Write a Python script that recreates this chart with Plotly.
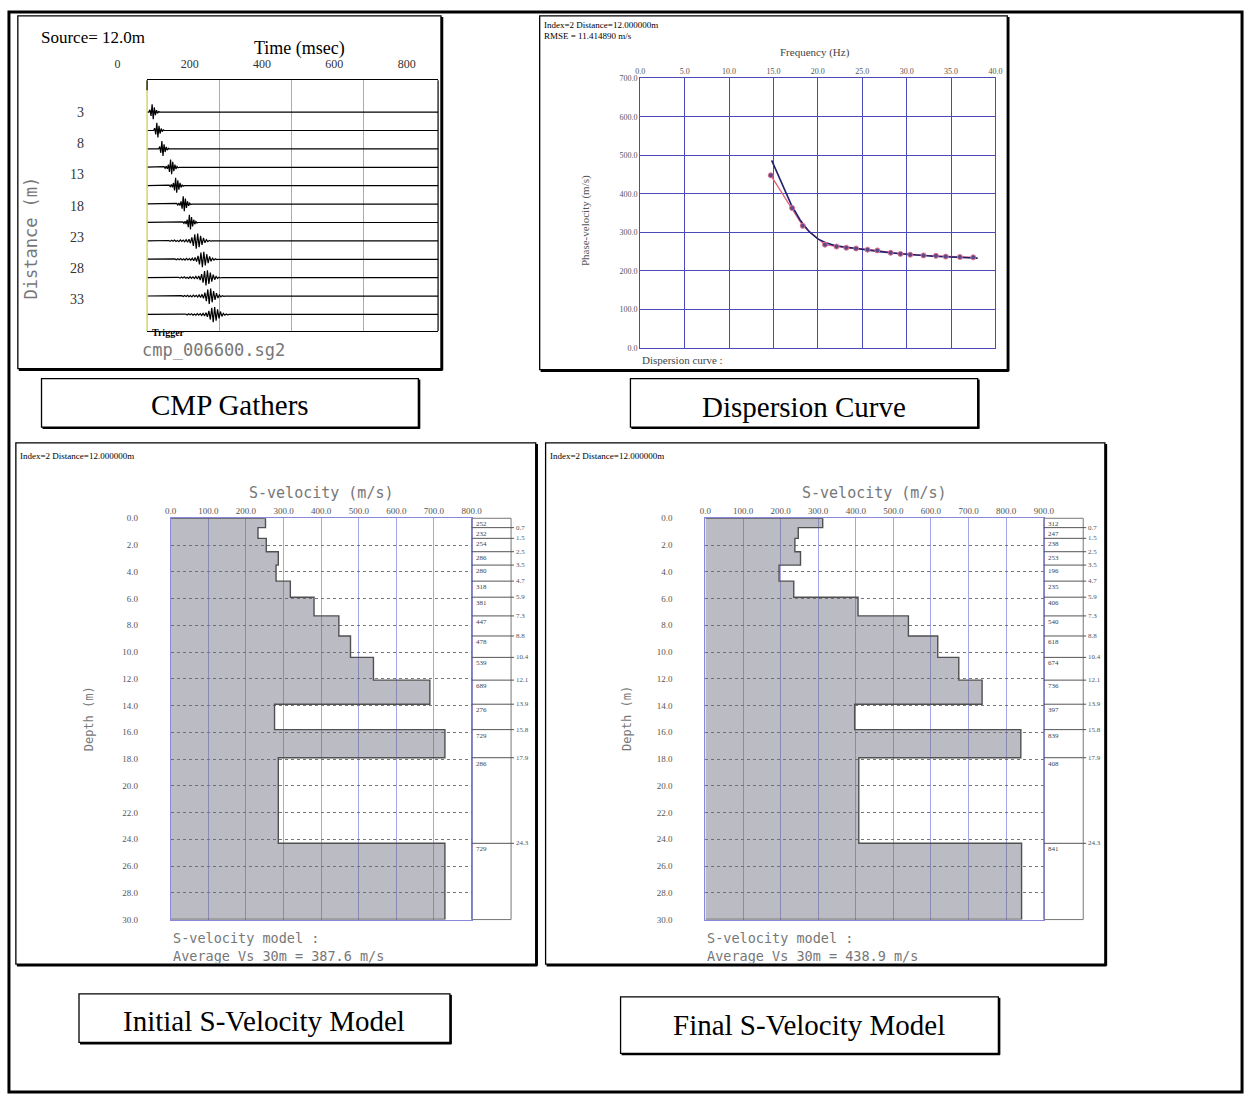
import plotly.graph_objects as go

W, H = 1256, 1095


def X(p):
    return p / W


def Y(p):
    return 1 - p / H


# ---------------- data ----------------
# CMP gather
cmp_offsets_m = [3.0, 5.95, 8.9, 11.85, 14.8, 17.75, 20.7, 23.65, 26.6, 29.55, 32.5, 35.45]
cmp_peak_ms = [14, 27, 41, 65, 79, 100, 117, 136, 153, 163, 172, 183]
cmp_wavelet_kind = [0, 0, 0, 1, 1, 1, 1, 2, 2, 2, 2, 2]
wavelet_near = [0, 0.3, -0.5, 1.0, -0.9, 0.6, -0.4, 0.25, -0.15, 0.08, 0]
wavelet_mid = [0, 0.08, -0.12, 0.15, -0.2, 0.35, -0.6, 1.0, -0.9, 0.7, -0.5, 0.35, -0.22, 0.12, -0.06, 0]
wavelet_far = [0, 0.05, -0.06, 0.08, -0.05, 0.1, -0.08, 0.06, -0.1, 0.12, -0.08, 0.1, -0.12, 0.15,
               -0.18, 0.22, -0.3, 0.45, -0.65, 0.85, -1.0, 0.95, -0.8, 0.65, -0.5, 0.38, -0.25, 0.15,
               -0.1, 0.06, -0.04, 0]
wavelet_dt_ms = [3, 3, 4]
wavelet_peak_idx = [3, 7, 20]
cmp_time_ticks = [0, 200, 400, 600, 800]
cmp_dist_ticks = [3, 8, 13, 18, 23, 28, 33]

# Dispersion curve
disp_freq_obs = [14.7, 17.1, 18.3, 20.8, 22.1, 23.2, 24.3, 25.6, 26.7, 28.2, 29.3, 30.4, 31.9, 33.3, 34.4, 36.0, 37.5]
disp_vel_obs = [448, 363, 317, 268, 263, 260, 258, 255, 253, 247, 244, 242, 240, 239, 237, 236, 235]
disp_freq_theory = [14.8, 15.5, 16.2, 17.0, 18.0, 19.0, 20.0, 21.0, 22.0, 23.5, 25.0, 27.0, 29.0, 31.0, 33.0, 35.0, 38.0]
disp_vel_theory = [487, 450, 412, 372, 332, 302, 283, 272, 265, 260, 256, 250, 245, 241, 238, 236, 233]

# S-velocity models
layer_bottoms_m = [0.7, 1.5, 2.5, 3.5, 4.7, 5.9, 7.3, 8.8, 10.4, 12.1, 13.9, 15.8, 17.9, 24.3, 30.0]
vs_initial = [252, 232, 254, 286, 280, 318, 381, 447, 478, 539, 689, 276, 729, 286, 729]
vs_final = [312, 247, 238, 253, 196, 235, 406, 540, 618, 674, 736, 397, 839, 408, 841]
avg_vs30_initial = 387.6
avg_vs30_final = 438.9

SERIF = "Liberation Serif"
MONO = "DejaVu Sans Mono"

fig = go.Figure()
annotations = []
shapes = []


def txt(px, py, s, size, color="black", family=SERIF, xanchor="left", yanchor="middle", angle=0):
    annotations.append(dict(x=X(px), y=Y(py), xref="paper", yref="paper", text=s, showarrow=False,
                            xanchor=xanchor, yanchor=yanchor, textangle=angle,
                            font=dict(size=size, color=color, family=family)))


def box(x0, y0, x1, y1, lw=1.3, shadow=2.5, color="black"):
    shapes.append(dict(type="rect", xref="paper", yref="paper", x0=X(x0), y0=Y(y0), x1=X(x1), y1=Y(y1),
                       line=dict(color=color, width=lw)))
    if shadow:
        shapes.append(dict(type="line", xref="paper", yref="paper", x0=X(x1 + 1), y0=Y(y0 + 1), x1=X(x1 + 1),
                           y1=Y(y1 + 1.5), line=dict(color=color, width=shadow)))
        shapes.append(dict(type="line", xref="paper", yref="paper", x0=X(x0 + 1), y0=Y(y1 + 1), x1=X(x1 + 1.5),
                           y1=Y(y1 + 1), line=dict(color=color, width=shadow)))


# ---------------- CMP gather ----------------
wavelets = [wavelet_near, wavelet_mid, wavelet_far]
for off, pk, kind in zip(cmp_offsets_m, cmp_peak_ms, cmp_wavelet_kind):
    w = wavelets[kind]
    dt = wavelet_dt_ms[kind]
    start = pk - wavelet_peak_idx[kind] * dt
    ts = [-20] + [start + i * dt for i in range(len(w))] + [820]
    amps = [0] + w + [0]
    fig.add_trace(go.Scatter(x=ts, y=[off - 1.25 * a for a in amps], mode="lines",
                             line=dict(color="black", width=1.2), xaxis="x", yaxis="y",
                             showlegend=False, hoverinfo="skip"))
# dummy trace to realise the (shifted) time-label axis
fig.add_trace(go.Scatter(x=[None], y=[None], xaxis="x2", yaxis="y", showlegend=False, hoverinfo="skip"))
# frame of the gather: trigger line (yellow) on the left, black elsewhere
shapes.append(dict(type="line", xref="x domain", yref="y domain", x0=0, x1=0, y0=0, y1=1,
                   line=dict(color="#d2d66a", width=1.5)))
shapes.append(dict(type="line", xref="x domain", yref="y domain", x0=0, x1=0, y0=0.96, y1=1,
                   line=dict(color="black", width=1.2)))
shapes.append(dict(type="line", xref="x domain", yref="y domain", x0=1, x1=1, y0=0, y1=1,
                   line=dict(color="black", width=1.2)))

# ---------------- Dispersion ----------------
fig.add_trace(go.Scatter(x=disp_freq_obs, y=disp_vel_obs, mode="lines",
                         line=dict(color="#e0607a", width=1.3), xaxis="x3", yaxis="y3",
                         showlegend=False, hoverinfo="skip"))
fig.add_trace(go.Scatter(x=disp_freq_theory, y=disp_vel_theory, mode="lines",
                         line=dict(color="#202070", width=1.6), xaxis="x3", yaxis="y3",
                         showlegend=False, hoverinfo="skip"))
fig.add_trace(go.Scatter(x=disp_freq_obs, y=disp_vel_obs, mode="markers",
                         marker=dict(color="#5a4a8a", size=5, line=dict(color="#e07090", width=1)),
                         xaxis="x3", yaxis="y3", showlegend=False, hoverinfo="skip"))


# ---------------- Velocity models ----------------
def model_xy(vs):
    xs, ys = [0], [0]
    top = 0
    for v, b in zip(vs, layer_bottoms_m):
        xs += [v, v]
        ys += [top, b]
        top = b
    xs.append(0)
    ys.append(layer_bottoms_m[-1])
    return xs, ys


for vs, xa, ya in [(vs_initial, "x4", "y4"), (vs_final, "x5", "y5")]:
    xs, ys = model_xy(vs)
    fig.add_trace(go.Scatter(x=xs, y=ys, mode="lines", fill="toself",
                             fillcolor="rgba(105,105,125,0.45)",
                             line=dict(color="#505050", width=1.4), xaxis=xa, yaxis=ya,
                             showlegend=False, hoverinfo="skip"))

tickfont_small = dict(size=8, color="#555", family=SERIF)
tickfont_model = dict(size=9, color="#555", family=SERIF)
layout_axes = dict(
    xaxis=dict(domain=[X(143), X(438)], range=[0, 805], anchor="y", showgrid=True, gridcolor="#8fb0dd",
               gridwidth=1, tickvals=[200, 400, 600], showticklabels=False, ticks="", zeroline=False,
               showline=True, linecolor="black", linewidth=1.2, mirror=True),
    xaxis2=dict(domain=[X(113), X(408)], range=[0, 805], anchor="free", position=Y(66), side="top",
                showgrid=False, zeroline=False, showline=False, ticks="",
                tickvals=cmp_time_ticks, ticktext=[str(t) for t in cmp_time_ticks],
                tickfont=dict(size=12, color="#333", family=SERIF)),
    yaxis=dict(domain=[Y(329), Y(76)], range=[38.1, -2.1], anchor="x", showgrid=False, zeroline=False,
               tickvals=cmp_dist_ticks, ticktext=[str(d) for d in cmp_dist_ticks], ticks="",
               ticklabelstandoff=62, tickfont=dict(size=14, color="#333", family=SERIF),
               showline=False),
    xaxis3=dict(domain=[X(643), X(1003)], range=[0, 40], anchor="y3", side="top", dtick=5, tickformat=".1f",
                showgrid=True, gridcolor="#4a4ab8", gridwidth=1.4, zeroline=False, showline=True,
                linecolor="#4a4ab8", linewidth=1.4, mirror=True, ticks="", tickfont=tickfont_small),
    yaxis3=dict(domain=[Y(346), Y(74)], range=[0, 700], anchor="x3", dtick=100, tickformat=".1f",
                showgrid=True, gridcolor="#4a4ab8", gridwidth=1.4, zeroline=False, showline=True,
                linecolor="#4a4ab8", linewidth=1.4, mirror=True, ticks="", tickfont=tickfont_small),
    xaxis4=dict(domain=[X(167), X(472)], range=[0, 800], anchor="y4", side="top", dtick=100, tickformat=".1f",
                showgrid=True, gridcolor="#a6a6e6", gridwidth=1, zeroline=False, showline=True,
                linecolor="#8888dd", mirror=True, ticks="", tickfont=tickfont_model),
    yaxis4=dict(domain=[Y(923), Y(518)], range=[30, 0], anchor="x4", dtick=2, tickformat=".1f",
                showgrid=True, gridcolor="#777", griddash="dot", gridwidth=1, zeroline=False, showline=True,
                linecolor="#8888dd", mirror=True, ticks="", ticklabelstandoff=30, tickfont=tickfont_model),
    xaxis5=dict(domain=[X(709), X(1052)], range=[0, 900], anchor="y5", side="top", dtick=100, tickformat=".1f",
                showgrid=True, gridcolor="#a6a6e6", gridwidth=1, zeroline=False, showline=True,
                linecolor="#8888dd", mirror=True, ticks="", tickfont=tickfont_model),
    yaxis5=dict(domain=[Y(923), Y(518)], range=[30, 0], anchor="x5", dtick=2, tickformat=".1f",
                showgrid=True, gridcolor="#777", griddash="dot", gridwidth=1, zeroline=False, showline=True,
                linecolor="#8888dd", mirror=True, ticks="", ticklabelstandoff=30, tickfont=tickfont_model),
)

# ---------------- frames and captions ----------------
shapes.append(dict(type="rect", xref="paper", yref="paper", x0=X(3), y0=Y(7), x1=X(1253), y1=Y(1097),
                   line=dict(color="black", width=3)))
box(12, 11, 441, 367)
box(541, 11, 1015, 368)
box(36, 377, 418, 426, lw=1.3, shadow=2)
box(633, 377, 985, 426, lw=1.3, shadow=2)
box(10, 442, 537, 968)
box(547, 442, 1114, 968)
box(74, 998, 450, 1047, lw=1.3, shadow=2)
box(623, 1001, 1006, 1058, lw=1.3, shadow=2)

# CMP texts
txt(33, 33, "Source= 12.0m", 17)
txt(298, 44, "Time (msec)", 18, xanchor="center")
txt(25, 235, "Distance (m)", 17, color="#777", family=MONO, xanchor="center", angle=-90)
txt(146, 331, "<b>Trigger</b>", 10)
txt(136, 348, "cmp_006600.sg2", 17, color="#777", family=MONO)

# Dispersion texts
txt(543, 20, "Index=2 Distance=12.000000m", 9)
txt(543, 31, "RMSE = 11.414890 m/s", 9)
txt(820, 48, "Frequency (Hz)", 11, color="#444", xanchor="center")
txt(587, 218, "Phase-velocity (m/s)", 11, color="#555", xanchor="center", angle=-90)
txt(643, 358, "Dispersion curve :", 11, color="#444")

# Captions
txt(227, 404, "CMP Gathers", 29, xanchor="center")
txt(809, 406, "Dispersion Curve", 29, xanchor="center")
txt(262, 1025, "Initial S-Velocity Model", 29, xanchor="center")
txt(814, 1029, "Final S-Velocity Model", 29, xanchor="center")

# Model panel texts and layer label columns
for vs, left, plot_l, plot_r, ya, avg, ylab_x in [
    (vs_initial, 12, 167, 472, "y4", avg_vs30_initial, 85),
    (vs_final, 549, 709, 1052, "y5", avg_vs30_final, 630),
]:
    txt(left, 455, "Index=2 Distance=12.000000m", 9)
    txt((plot_l + plot_r) / 2, 492, "S-velocity (m/s)", 15, color="#777", family=MONO, xanchor="center")
    txt(ylab_x, 720, "Depth (m)", 12, color="#777", family=MONO, xanchor="center", angle=-90)
    txt(plot_l, 942, "S-velocity model :", 13.5, color="#777", family=MONO)
    txt(plot_l, 960, "Average Vs 30m = %.1f m/s" % avg, 13.5, color="#777", family=MONO)
    col_r = plot_r + 40
    shapes.append(dict(type="rect", xref="paper", yref="paper", x0=X(plot_r), y0=Y(923), x1=X(col_r), y1=Y(518),
                       line=dict(color="#777", width=1)))
    top = 0
    for v, b in zip(vs, layer_bottoms_m):
        annotations.append(dict(x=X(plot_r + 2), y=top, xref="paper", yref=ya, text=str(v), showarrow=False,
                                xanchor="left", yanchor="top", font=dict(size=7, color="#444", family=SERIF)))
        if b < layer_bottoms_m[-1]:
            shapes.append(dict(type="line", xref="paper", yref=ya, x0=X(plot_r), x1=X(col_r + 3), y0=b, y1=b,
                               line=dict(color="#555", width=1)))
            annotations.append(dict(x=X(col_r + 3), y=b, xref="paper", yref=ya, text=str(b), showarrow=False,
                                    xanchor="left", yanchor="middle",
                                    font=dict(size=7, color="#555", family=SERIF)))
        top = b

fig.update_layout(width=W, height=H, margin=dict(l=0, r=0, t=0, b=0), paper_bgcolor="white",
                  plot_bgcolor="rgba(0,0,0,0)", showlegend=False, annotations=annotations, shapes=shapes,
                  **layout_axes)

fig.write_html("out.html")
